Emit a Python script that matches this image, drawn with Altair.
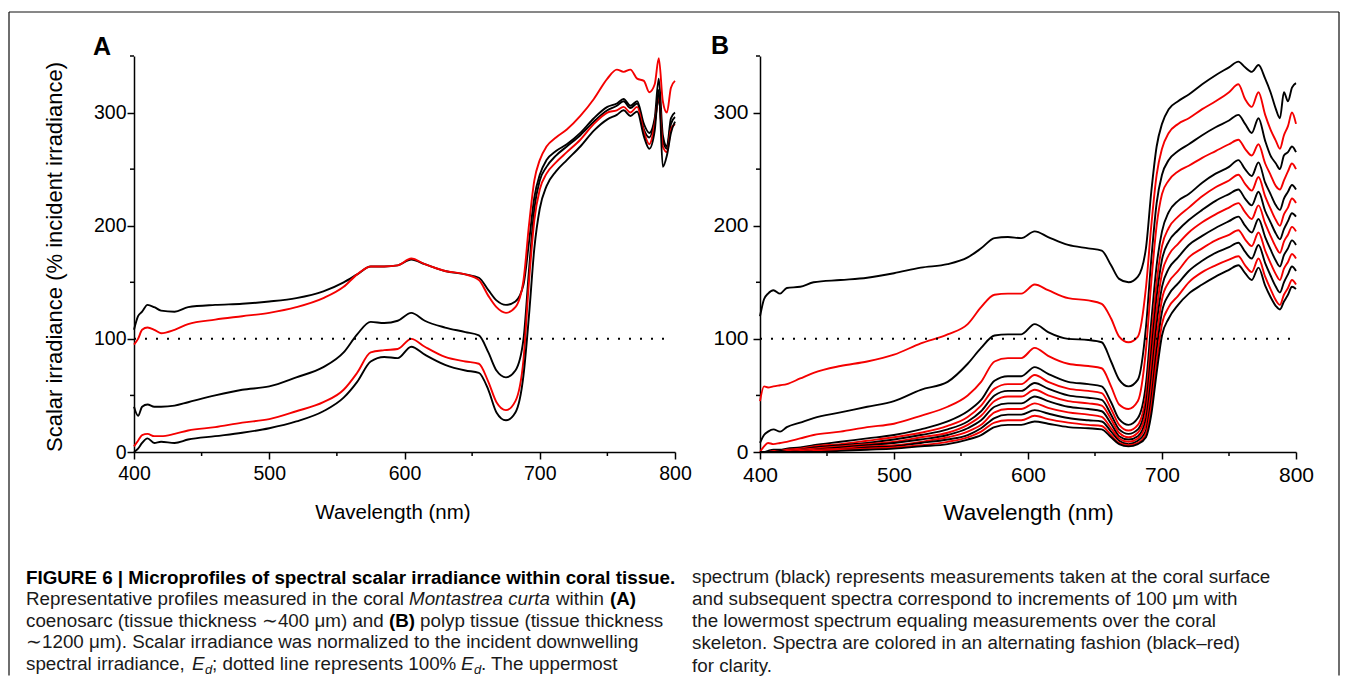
import altair as alt
import pandas as pd

# ---------------- data ----------------
wavelength_nm = [400, 403, 406, 410, 415, 420, 430, 440, 460, 480, 500, 520, 540,
                 555, 565, 575, 585, 595, 605, 615, 630, 645, 655, 662, 668, 675,
                 682, 688, 692, 696, 700, 705, 712, 720, 730, 740, 750, 757, 762,
                 767, 772, 777, 781, 785, 788, 791, 794, 797, 800]

# Panel A: coenosarc (~400 um), surface -> skeleton in 100 um steps
a_000um = [108, 120, 124, 130, 128, 125, 124, 128, 130, 131, 133, 136, 142,
           150, 157, 164, 164, 165, 170, 166, 160, 157, 154, 143, 134, 130,
           133, 148, 185, 225, 245, 258, 266, 272, 282, 295, 305, 308, 312,
           306, 310, 290, 282, 295, 330, 280, 270, 295, 300]
a_100um = [95, 100, 108, 110, 108, 105, 108, 113, 117, 120, 123, 128, 136,
           146, 157, 164, 164, 165, 171, 166, 160, 157, 152, 138, 128, 123,
           128, 152, 200, 240, 258, 270, 278, 285, 297, 312, 330, 338, 336,
           338, 330, 328, 318, 325, 348, 310, 300, 322, 328]
a_200um = [40, 32, 40, 42, 40, 40, 41, 44, 50, 55, 58, 66, 75,
           88, 104, 115, 114, 116, 123, 116, 110, 106, 103, 88, 72, 66,
           72, 100, 160, 215, 240, 252, 262, 270, 280, 292, 302, 306, 310,
           304, 308, 285, 278, 292, 312, 275, 268, 290, 296]
a_300um = [5, 10, 15, 16, 14, 14, 16, 19, 22, 26, 29, 36, 44,
           55, 70, 88, 90, 91, 100, 93, 84, 80, 78, 62, 44, 37,
           45, 82, 150, 205, 232, 246, 256, 265, 276, 290, 300, 302, 305,
           300, 305, 283, 272, 290, 315, 270, 265, 285, 290]
a_400um = [0, 3, 8, 12, 8, 9, 8, 11, 14, 17, 21, 27, 36,
           48, 62, 80, 84, 83, 93, 86, 77, 72, 70, 55, 35, 28,
           35, 68, 120, 180, 215, 235, 248, 258, 270, 284, 294, 298, 302,
           297, 301, 279, 268, 284, 320, 252, 262, 282, 292]

# Panel B: polyp tissue (~1200 um), surface -> skeleton in 100 um steps
b_0000um = [120, 135, 140, 143, 140, 145, 146, 150, 152, 154, 158, 163, 166,
            172, 180, 189, 190, 189, 195, 190, 183, 180, 178, 165, 153, 150,
            155, 180, 230, 270, 290, 303, 310, 316, 325, 333, 340, 345, 340,
            336, 342, 330, 318, 303, 295, 318, 310, 322, 326]
b_0100um = [45, 58, 57, 58, 59, 60, 65, 70, 76, 80, 86, 96, 104,
            113, 128, 139, 140, 140, 148, 143, 136, 134, 131, 118, 102, 97,
            102, 145, 200, 245, 268, 282, 290, 295, 303, 310, 318, 325, 312,
            305, 318, 298, 285, 275, 268, 280, 288, 300, 290]
b_0200um = [8, 15, 18, 20, 18, 22, 26, 30, 35, 40, 45, 55, 62,
            78, 92, 103, 104, 104, 113, 106, 100, 99, 97, 80, 64, 58,
            64, 110, 170, 220, 245, 258, 266, 272, 280, 287, 293, 298, 290,
            282, 295, 275, 262, 255, 250, 262, 265, 270, 265]
b_0300um = [0, 5, 8, 7, 8, 9, 12, 15, 18, 22, 25, 32, 40,
            50, 62, 80, 83, 83, 92, 85, 78, 76, 74, 58, 42, 38,
            45, 90, 150, 200, 228, 240, 248, 253, 260, 266, 272, 276, 268,
            262, 272, 255, 245, 235, 232, 240, 248, 255, 250]
b_0400um = [0, 0, 1, 2, 2, 3, 4, 6, 9, 12, 15, 20, 27,
            36, 46, 63, 67, 67, 75, 69, 62, 60, 58, 44, 29, 24,
            30, 60, 115, 165, 195, 212, 222, 228, 238, 246, 252, 258, 250,
            244, 256, 238, 228, 218, 214, 224, 230, 236, 232]
b_0500um = [0, 0, 0, 1, 1, 2, 3, 5, 7, 10, 13, 17, 23,
            31, 41, 56, 60, 60, 68, 62, 56, 54, 52, 38, 24, 19,
            24, 50, 100, 150, 182, 198, 208, 216, 226, 234, 240, 245, 237,
            231, 243, 226, 215, 205, 200, 210, 216, 224, 220]
b_0600um = [0, 0, 0, 0, 1, 1, 2, 4, 6, 8, 11, 15, 20,
            27, 36, 50, 54, 54, 61, 56, 50, 48, 46, 33, 20, 16,
            20, 42, 88, 137, 170, 186, 196, 205, 214, 222, 228, 232, 224,
            218, 230, 213, 203, 193, 188, 197, 204, 211, 208]
b_0700um = [0, 0, 0, 0, 0, 1, 2, 3, 5, 7, 9, 13, 17,
            24, 32, 45, 49, 49, 55, 50, 45, 43, 41, 29, 17, 13,
            17, 35, 77, 125, 158, 174, 184, 194, 203, 210, 216, 220, 212,
            206, 218, 202, 191, 181, 176, 186, 192, 199, 195]
b_0800um = [0, 0, 0, 0, 0, 0, 1, 2, 4, 6, 8, 11, 15,
            21, 28, 40, 43, 43, 49, 45, 40, 38, 36, 25, 14, 11,
            14, 29, 66, 113, 146, 162, 172, 183, 191, 198, 204, 208, 200,
            194, 206, 190, 179, 169, 164, 174, 180, 187, 183]
b_0900um = [0, 0, 0, 0, 0, 0, 1, 2, 3, 5, 6, 9, 13,
            18, 24, 35, 38, 38, 43, 39, 35, 33, 31, 21, 12, 9,
            12, 24, 56, 101, 135, 150, 160, 172, 180, 187, 192, 196, 188,
            182, 194, 178, 167, 157, 152, 162, 168, 175, 171]
b_1000um = [0, 0, 0, 0, 0, 0, 0, 1, 2, 4, 5, 8, 11,
            15, 21, 30, 33, 33, 37, 34, 30, 28, 27, 18, 10, 7,
            10, 19, 47, 90, 124, 139, 149, 160, 169, 176, 181, 185, 177,
            171, 183, 167, 156, 146, 141, 150, 157, 164, 160]
b_1100um = [0, 0, 0, 0, 0, 0, 0, 1, 2, 3, 4, 6, 9,
            13, 18, 26, 28, 28, 32, 29, 26, 24, 23, 15, 8, 6,
            8, 16, 40, 80, 113, 128, 138, 150, 159, 165, 170, 173, 165,
            159, 171, 155, 144, 134, 130, 139, 145, 152, 148]
b_1200um = [0, 0, 0, 0, 0, 0, 0, 0, 1, 2, 3, 5, 7,
            11, 15, 22, 24, 24, 27, 25, 22, 21, 20, 13, 7, 5,
            7, 13, 33, 70, 103, 118, 130, 140, 148, 155, 161, 165, 158,
            152, 163, 147, 137, 129, 126, 133, 139, 146, 144]

y_major = [0, 100, 200, 300]
y_minor = [50, 150, 250, 350]
x_major = [400, 500, 600, 700, 800]
x_minor = [450, 550, 650, 750]
reference_pct = [100]
reference_from = [400]
reference_to = [796]

panel_a_series = [("0", a_000um), ("100", a_100um), ("200", a_200um),
                  ("300", a_300um), ("400", a_400um)]
panel_b_series = [("0", b_0000um), ("100", b_0100um), ("200", b_0200um),
                  ("300", b_0300um), ("400", b_0400um), ("500", b_0500um),
                  ("600", b_0600um), ("700", b_0700um), ("800", b_0800um),
                  ("900", b_0900um), ("1000", b_1000um), ("1100", b_1100um),
                  ("1200", b_1200um)]

caption_left = [
    (26, 583, "FIGURE 6 | Microprofiles of spectral scalar irradiance within coral tissue.", "bold"),
    (26, 604, "Representative profiles measured in the coral", "reg"),
    (409, 604, "Montastrea curta", "ital"),
    (556, 604, "within", "reg"),
    (610, 604, "(A)", "bold"),
    (26, 626, "coenosarc (tissue thickness \u223c400 \u03bcm) and", "reg"),
    (389, 626, "(B)", "bold"),
    (420, 626, "polyp tissue (tissue thickness", "reg"),
    (26, 647, "\u223c1200 \u03bcm). Scalar irradiance was normalized to the incident downwelling", "reg"),
    (26, 669, "spectral irradiance,", "reg"),
    (192, 669, "E", "ital"),
    (205, 673, "d", "sub"),
    (212, 669, "; dotted line represents 100%", "reg"),
    (461, 669, "E", "ital"),
    (474, 673, "d", "sub"),
    (481, 669, ". The uppermost", "reg"),
]
caption_right = [
    (692, 582, "spectrum (black) represents measurements taken at the coral surface", "reg"),
    (692, 604, "and subsequent spectra correspond to increments of 100 \u03bcm with", "reg"),
    (692, 626, "the lowermost spectrum equaling measurements over the coral", "reg"),
    (692, 648, "skeleton. Spectra are colored in an alternating fashion (black\u2013red)", "reg"),
    (692, 671, "for clarity.", "reg"),
]

# ---------------- layout constants (pixels) ----------------
A_LEFT, B_LEFT, PLOT_TOP = 134, 760, 55.5
A_W, B_W, H = 541, 536, 396
FONT = "Liberation Sans, Arial, Helvetica, sans-serif"
CAP_FONT = FONT
CAP_SIZE = 18.8


def long_table(series):
    rows = []
    for i, (depth, vals) in enumerate(series):
        tone = "black" if i % 2 == 0 else "red"
        for w, v in zip(wavelength_nm, vals):
            rows.append({"wl": w, "irr": v, "depth": depth, "tone": tone})
    return pd.DataFrame(rows)


xs = alt.Scale(domain=[400, 800], nice=False, zero=False)
ys = alt.Scale(domain=[0, 350], nice=False, zero=False)


def panel(series, width, letter, letter_x, letter_y, ytitle, label_size,
          title_size, title_dx, ylab_pad):
    df = long_table(series)
    xaxis = alt.Axis(values=x_major, format="d", title="Wavelength (nm)",
                     titleX=width / 2 + title_dx, titleY=60, titleAlign="center",
                     titleBaseline="middle", titleFontSize=title_size,
                     titleFontWeight="normal", titleFont=FONT, labelPadding=5,
                     labelFontSize=label_size)
    if ytitle:
        yaxis = alt.Axis(values=y_major, format="d", title=ytitle,
                         titleX=-80, titleY=200.5, titleAngle=270,
                         titleAlign="center", titleBaseline="middle",
                         titleFontSize=22, titleFontWeight="normal",
                         titleFont=FONT, labelPadding=ylab_pad,
                         labelFontSize=label_size)
    else:
        yaxis = alt.Axis(values=y_major, format="d", title=None,
                         labelPadding=ylab_pad, labelFontSize=label_size)

    lines = alt.Chart(df).mark_line(strokeWidth=1.9, interpolate="monotone").encode(
        x=alt.X("wl:Q", scale=xs, axis=xaxis),
        y=alt.Y("irr:Q", scale=ys, axis=yaxis),
        detail="depth:N",
        color=alt.Color("tone:N", scale=alt.Scale(domain=["black", "red"],
                                                  range=["#000000", "#f40000"]),
                        legend=None),
    )
    ref = alt.Chart(pd.DataFrame({"wl": reference_from, "wl_end": reference_to,
                                  "irr": reference_pct})).mark_rule(
        strokeDash=[2, 9], strokeWidth=2, color="black").encode(
        x=alt.X("wl:Q", scale=xs, axis=xaxis), x2="wl_end:Q",
        y=alt.Y("irr:Q", scale=ys, axis=yaxis))
    ymin = alt.Chart(pd.DataFrame({"irr": y_minor})).mark_rule(
        color="black", strokeWidth=1.5).encode(
        y=alt.Y("irr:Q", scale=ys, axis=yaxis), x=alt.value(-4), x2=alt.value(0))
    xmin = alt.Chart(pd.DataFrame({"wl": x_minor})).mark_rule(
        color="black", strokeWidth=1.5).encode(
        x=alt.X("wl:Q", scale=xs, axis=xaxis), y=alt.value(H), y2=alt.value(H + 4))
    lab = alt.Chart(pd.DataFrame({"t": [letter]})).mark_text(
        font=FONT, fontSize=25, fontWeight="bold", align="left",
        baseline="alphabetic", color="black").encode(
        text="t:N", x=alt.value(letter_x), y=alt.value(letter_y))
    return [lines, ref, ymin, xmin, lab]


def caption_layer(rows, style):
    sel = [r for r in rows if r[3] == style]
    df = pd.DataFrame({"px": [r[0] - A_LEFT for r in sel],
                       "py": [r[1] - PLOT_TOP for r in sel],
                       "t": [r[2] for r in sel]})
    kw = dict(font=CAP_FONT, fontSize=CAP_SIZE, align="left",
              baseline="alphabetic", color="#1a1a1a")
    if style == "bold":
        kw["fontWeight"] = "bold"
        kw["color"] = "#000000"
    if style in ("ital", "sub"):
        kw["fontStyle"] = "italic"
    if style == "sub":
        kw["fontSize"] = 13
    return alt.Chart(df).mark_text(**kw).encode(
        x=alt.X("px:Q", scale=None), y=alt.Y("py:Q", scale=None), text="t:N")


# frame around the figure (open at the bottom, as in the source)
L, R, T, BOT = 9 - A_LEFT, 1339 - A_LEFT, 11.5 - PLOT_TOP, 675 - PLOT_TOP
frame_sides = alt.Chart(pd.DataFrame({"px": [L, R], "py": [T, T], "py2": [BOT, BOT]})).mark_rule(
    color="#6e6e6e", strokeWidth=2).encode(
    x=alt.X("px:Q", scale=None), y=alt.Y("py:Q", scale=None), y2="py2:Q")
frame_top = alt.Chart(pd.DataFrame({"px": [L], "px2": [R], "py": [T]})).mark_rule(
    color="#111111", strokeWidth=1).encode(
    x=alt.X("px:Q", scale=None), x2="px2:Q", y=alt.Y("py:Q", scale=None))

caps = caption_left + caption_right
cap_layers = [caption_layer(caps, s) for s in ("reg", "bold", "ital", "sub")]

panel_a = alt.layer(
    *panel(panel_a_series, A_W, "A", 93 - A_LEFT, 54 - PLOT_TOP,
           "Scalar irradiance (% incident irradiance)", 19.5, 20.5, -12, 1),
    frame_sides, frame_top, *cap_layers,
).properties(width=A_W, height=H)

panel_b = alt.layer(
    *panel(panel_b_series, B_W, "B", 711 - B_LEFT, 53 - PLOT_TOP, None,
           21, 22.5, 0, 5),
).properties(width=B_W, height=H)

chart = alt.hconcat(panel_a, panel_b, spacing=B_LEFT - A_LEFT - A_W, bounds="flush").properties(
    padding={"left": 0, "top": 3, "right": 0, "bottom": 0},
    background="white",
).configure_view(stroke=None).configure_axis(
    labelFont=FONT, labelColor="#000000",
    domainColor="#000000", domainWidth=1.5, tickColor="#000000",
    tickWidth=1.5, tickSize=7, grid=False, titleColor="#000000",
    labelFlush=False,
)

chart.save("out.html", embed_options={"renderer": "svg", "actions": False})
